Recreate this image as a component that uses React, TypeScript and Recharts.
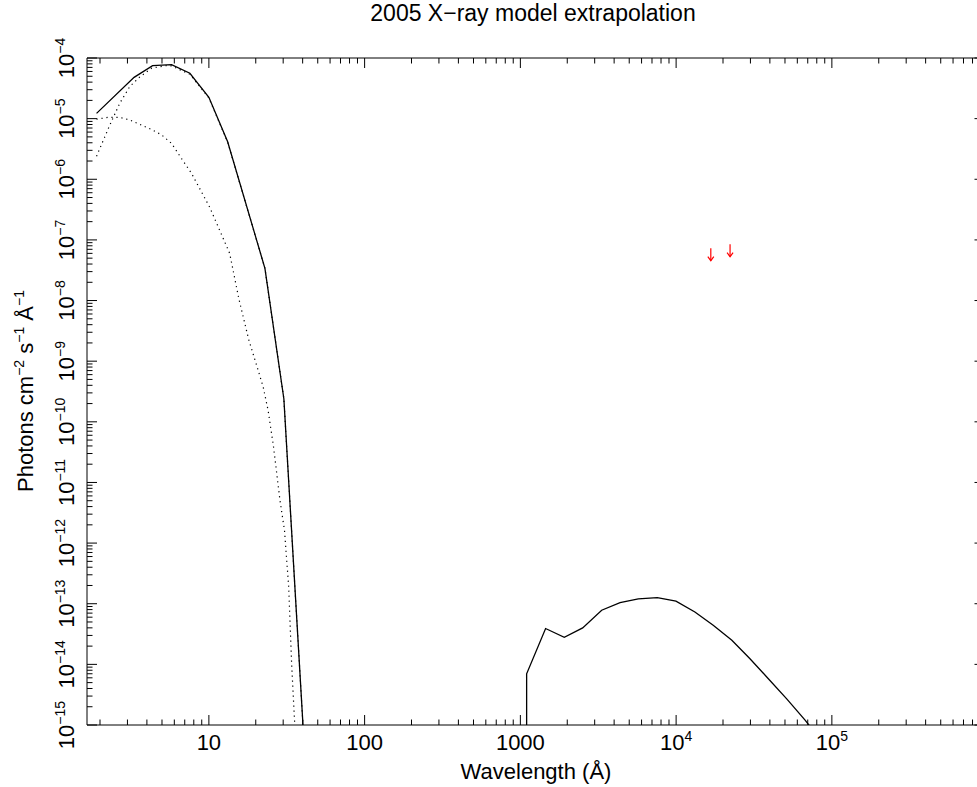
import React from "react";
import { ComposedChart, Line, Scatter, XAxis, YAxis, ReferenceLine } from "recharts";

// hard X-ray model (total) and its two components
const xrayWave = [1.9, 3.31, 4.35, 5.76, 7.55, 10, 13.2, 22.9, 30.3, 40.2];
const xrayTotal = [1.22e-5, 4.8e-5, 7.46e-5, 7.76e-5, 5.6e-5, 2.25e-5, 4.16e-6, 3.4e-8, 2.4e-10, 1e-15];

const compAWave = [1.9, 2.31, 2.68, 3.11, 3.61, 4.29, 5.35, 5.76, 7.55, 10, 13.2, 22.9, 30.3, 40.2];
const compAFlux = [2.4e-6, 7.8e-6, 1.8e-5, 3.4e-5, 4.9e-5, 6.8e-5, 7.5e-5, 7.4e-5, 5.4e-5, 2.2e-5, 4.1e-6, 3.4e-8, 2.4e-10, 1e-15];

const compBWave = [1.9, 2.26, 2.68, 3.11, 3.7, 4.29, 4.97, 5.76, 6.67, 7.74, 10.1, 13.6, 15.6, 18, 22.3, 24, 26, 28.6, 30.6, 32.5, 34, 35.6, 37];
const compBFlux = [9.8e-6, 1.05e-5, 1.05e-5, 9.5e-6, 7.8e-6, 6.6e-6, 5.4e-6, 3.9e-6, 2.2e-6, 1.25e-6, 3.5e-7, 6e-8, 1.05e-8, 2.3e-9, 3.8e-10, 1.55e-10, 3.9e-11, 5.1e-12, 1.6e-12, 2e-13, 1e-14, 1e-15, 1e-16];

// UV / optical / IR extrapolation
const optWave = [1097, 1097, 1452, 1914, 2512, 3327, 4365, 5718, 7568, 9977, 13200, 17300, 22800, 29800, 39100, 51300, 67300, 88300];
const optFlux = [1e-17, 7e-15, 3.9e-14, 2.8e-14, 4.0e-14, 7.8e-14, 1.04e-13, 1.2e-13, 1.26e-13, 1.1e-13, 7.3e-14, 4.4e-14, 2.5e-14, 1.24e-14, 5.8e-15, 2.7e-15, 1.2e-15, 5e-16];

// H and K band upper limits
const limitWave = [16700, 22200];
const limitFlux = [7.3e-8, 8.5e-8];

// axis ticks
const xMajorTicks = [10, 100, 1000, 1e4, 1e5];
const xTickLabels = [["10", ""], ["100", ""], ["1000", ""], ["10", "4"], ["10", "5"]];
const yMajorTicks = [1e-15, 1e-14, 1e-13, 1e-12, 1e-11, 1e-10, 1e-9, 1e-8, 1e-7, 1e-6, 1e-5, 1e-4];
const yTickExponents = ["−15", "−14", "−13", "−12", "−11", "−10", "−9", "−8", "−7", "−6", "−5", "−4"];

const X_MIN = 1.65;
const X_MAX = 9.55e5;

const W = 1000;
const H = 787;
const AXIS_W = 30;
const AXIS_H = 30;
const M = { top: 58, left: 87 - AXIS_W, right: W - 984.5, bottom: 62 - AXIS_H };
const PLOT_TOP = M.top;
const PLOT_RIGHT = W - M.right;
const FONT = "'Liberation Sans', Arial, Helvetica, sans-serif";

const zip = (xs: number[], ys: number[]) => xs.map((x, i) => ({ x, y: ys[i] }));

const xrayData = zip(xrayWave, xrayTotal);
const compAData = zip(compAWave, compAFlux);
const compBData = zip(compBWave, compBFlux);
const optData = zip(optWave, optFlux);
const limitData = zip(limitWave, limitFlux);

const minorTicks = (lo: number, hi: number) => {
  const out: number[] = [];
  for (let e = lo; e <= hi; e++) {
    for (let m = 1; m <= 9; m++) out.push(m * Math.pow(10, e));
  }
  return out;
};
const xTicks = minorTicks(0, 5).filter((v) => v >= X_MIN && v <= X_MAX);
const yTicks = minorTicks(-15, -5).concat([1e-4]);

const isPow10 = (v: number) => Math.abs(Math.log10(v) - Math.round(Math.log10(v))) < 1e-6;

const XTick = (props: any) => {
  const { x, y, payload } = props;
  const v = payload.value;
  const major = isPow10(v);
  const len = major ? 10 : 5.5;
  const idx = xMajorTicks.findIndex((t) => Math.abs(t - v) / t < 1e-6);
  const lab = idx >= 0 ? xTickLabels[idx] : null;
  return (
    <g>
      <line x1={x} x2={x} y1={y} y2={y - len} stroke="#000" />
      <line x1={x} x2={x} y1={PLOT_TOP} y2={PLOT_TOP + len} stroke="#000" />
      {lab && (
        <text x={x} y={y + 25} textAnchor="middle" fontSize={22} fontFamily={FONT} fill="#000">
          {lab[0]}
          {lab[1] && (
            <tspan dy={-9} fontSize={14}>
              {lab[1]}
            </tspan>
          )}
        </text>
      )}
    </g>
  );
};

const YTick = (props: any) => {
  const { x, y, payload } = props;
  const v = payload.value;
  const major = isPow10(v);
  const len = major ? 10 : 5.5;
  const idx = yMajorTicks.findIndex((t) => Math.abs(t - v) / t < 1e-6);
  const bx = x - 13;
  return (
    <g>
      <line x1={x} x2={x + len} y1={y} y2={y} stroke="#000" />
      <line x1={PLOT_RIGHT - len} x2={PLOT_RIGHT} y1={y} y2={y} stroke="#000" />
      {idx >= 0 && (
        <text x={bx} y={y} transform={`rotate(-90, ${bx}, ${y})`} textAnchor="middle" fontSize={22} fontFamily={FONT} fill="#000">
          10
          <tspan dy={-9} fontSize={14}>
            {yTickExponents[idx]}
          </tspan>
        </text>
      )}
    </g>
  );
};

const LimitArrow = (props: any) => {
  const { cx, cy } = props;
  return (
    <g stroke="#ff0000" strokeWidth={1.2} fill="none">
      <line x1={cx} x2={cx} y1={cy} y2={cy + 12.5} />
      <polyline points={`${cx - 3},${cy + 8.5} ${cx},${cy + 12.5} ${cx + 3},${cy + 8.5}`} />
    </g>
  );
};

export default function App() {
  return (
    <div style={{ position: "fixed", left: 0, top: 0, width: 977, height: 787, overflow: "hidden", background: "#fff" }}>
      <ComposedChart width={W} height={H} margin={M}>
        <XAxis
          type="number"
          dataKey="x"
          scale="log"
          domain={[X_MIN, X_MAX]}
          allowDataOverflow
          ticks={xTicks}
          interval={0}
          tick={<XTick />}
          tickLine={false}
          tickSize={0}
          tickMargin={0}
          height={AXIS_H}
          axisLine={{ stroke: "#000" }}
        />
        <YAxis
          type="number"
          dataKey="y"
          scale="log"
          domain={[1e-15, 1e-4]}
          allowDataOverflow
          ticks={yTicks}
          interval={0}
          tick={<YTick />}
          tickLine={false}
          tickSize={0}
          tickMargin={0}
          width={AXIS_W}
          axisLine={{ stroke: "#000" }}
        />
        <ReferenceLine y={1e-4} stroke="#000" />
        <ReferenceLine x={X_MAX} stroke="#000" />
        <Line data={compBData} dataKey="y" stroke="#000" strokeWidth={1.2} strokeDasharray="1.2 3.8" dot={false} isAnimationActive={false} />
        <Line data={compAData} dataKey="y" stroke="#000" strokeWidth={1.2} strokeDasharray="1.2 3.8" dot={false} isAnimationActive={false} />
        <Line data={xrayData} dataKey="y" stroke="#000" strokeWidth={1.3} dot={false} isAnimationActive={false} />
        <Line data={optData} dataKey="y" stroke="#000" strokeWidth={1.3} dot={false} isAnimationActive={false} />
        <Scatter data={limitData} dataKey="y" shape={<LimitArrow />} isAnimationActive={false} />
      </ComposedChart>
      <svg width={977} height={787} style={{ position: "absolute", left: 0, top: 0, pointerEvents: "none" }}>
        <text x={533} y={21} textAnchor="middle" fontSize={23} fontFamily={FONT} fill="#000">
          2005 X−ray model extrapolation
        </text>
        <text x={536} y={779} textAnchor="middle" fontSize={22} fontFamily={FONT} fill="#000">
          Wavelength (Å)
        </text>
        <text x={33} y={391} transform="rotate(-90, 33, 391)" textAnchor="middle" fontSize={22} fontFamily={FONT} fill="#000">
          Photons cm<tspan dy={-9} fontSize={14}>−2</tspan>
          <tspan dy={9}> s</tspan>
          <tspan dy={-9} fontSize={14}>−1</tspan>
          <tspan dy={9}> Å</tspan>
          <tspan dy={-9} fontSize={14}>−1</tspan>
        </text>
      </svg>
    </div>
  );
}
